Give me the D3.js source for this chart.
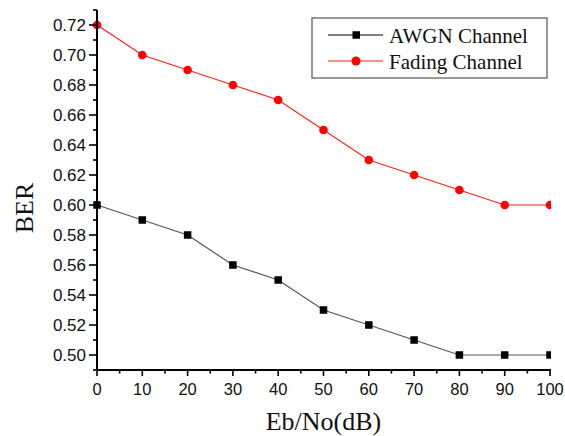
<!DOCTYPE html>
<html><head><meta charset="utf-8">
<script src="https://cdn.jsdelivr.net/npm/d3@7"></script>
<style>body{margin:0;background:#fff}</style>
</head><body>
<svg id="c" width="565" height="436"></svg>
<script>
const xValues = [0,10,20,30,40,50,60,70,80,90,100];
const awgn = [0.60,0.59,0.58,0.56,0.55,0.53,0.52,0.51,0.50,0.50,0.50];
const fading = [0.72,0.70,0.69,0.68,0.67,0.65,0.63,0.62,0.61,0.60,0.60];
const xTicks = [0,10,20,30,40,50,60,70,80,90,100];
const yTicks = [0.50,0.52,0.54,0.56,0.58,0.60,0.62,0.64,0.66,0.68,0.70,0.72];
const seriesNames = ["AWGN Channel","Fading Channel"];

const svg = d3.select("#c");
const x = d3.scaleLinear().domain([0,100]).range([97,550]);
const y = d3.scaleLinear().domain([0.49,0.73]).range([370,10]);

svg.append("defs").append("clipPath").attr("id","clip")
  .append("rect").attr("x",0).attr("y",0).attr("width",551).attr("height",436);

const g = svg.append("g").attr("clip-path","url(#clip)");
const line = d3.line().x((d,i)=>x(xValues[i])).y(d=>y(d));

g.append("path").datum(awgn).attr("d",line).attr("fill","none").attr("stroke","#555").attr("stroke-width",1.2);
g.append("path").datum(fading).attr("d",line).attr("fill","none").attr("stroke","#ff2020").attr("stroke-width",1.2);

g.selectAll(".sq").data(awgn).enter().append("rect")
  .attr("x",(d,i)=>x(xValues[i])-3.75).attr("y",d=>y(d)-3.75)
  .attr("width",7.5).attr("height",7.5).attr("fill","#000");
g.selectAll(".ci").data(fading).enter().append("circle")
  .attr("cx",(d,i)=>x(xValues[i])).attr("cy",d=>y(d)).attr("r",4.3).attr("fill","#ff0000");

// Axes
const xMinor = d3.range(5,100,10);
const yMinor = d3.range(0.49,0.731,0.02).map(v=>+v.toFixed(2));

const xa = svg.append("g").attr("transform","translate(0,370)");
xa.append("line").attr("x1",96).attr("x2",551).attr("y1",0).attr("y2",0).attr("stroke","#000").attr("stroke-width",2);
xa.selectAll(".mj").data(xTicks).enter().append("line")
  .attr("x1",d=>x(d)).attr("x2",d=>x(d)).attr("y1",0).attr("y2",6).attr("stroke","#000").attr("stroke-width",1.6);
xa.selectAll(".mn").data(xMinor).enter().append("line")
  .attr("x1",d=>x(d)).attr("x2",d=>x(d)).attr("y1",0).attr("y2",3.5).attr("stroke","#000").attr("stroke-width",1.6);
xa.selectAll(".lb").data(xTicks).enter().append("text")
  .attr("x",d=>x(d)).attr("y",24.5).attr("text-anchor","middle")
  .attr("font-family","Liberation Sans, Arial, sans-serif").attr("font-size",16.5).attr("fill","#111")
  .text(d=>d);

const ya = svg.append("g");
ya.append("line").attr("x1",97).attr("x2",97).attr("y1",10).attr("y2",371).attr("stroke","#000").attr("stroke-width",2);
ya.selectAll(".mj").data(yTicks).enter().append("line")
  .attr("x1",89).attr("x2",97).attr("y1",d=>y(d)).attr("y2",d=>y(d)).attr("stroke","#000").attr("stroke-width",1.6);
ya.selectAll(".mn").data(yMinor).enter().append("line")
  .attr("x1",93).attr("x2",97).attr("y1",d=>y(d)).attr("y2",d=>y(d)).attr("stroke","#000").attr("stroke-width",1.6);
ya.selectAll(".lb").data(yTicks).enter().append("text")
  .attr("x",86).attr("y",d=>y(d)+6).attr("text-anchor","end")
  .attr("font-family","Liberation Sans, Arial, sans-serif").attr("font-size",17).attr("fill","#111")
  .text(d=>d.toFixed(2));

svg.append("text").attr("x",323.5).attr("y",430).attr("text-anchor","middle")
  .attr("font-family","Liberation Serif, Times New Roman, serif").attr("font-size",26).attr("fill","#111")
  .text("Eb/No(dB)");
svg.append("text").attr("transform","translate(33,208) rotate(-90)").attr("text-anchor","middle")
  .attr("font-family","Liberation Serif, Times New Roman, serif").attr("font-size",26).attr("fill","#111")
  .text("BER");

// Legend
const lg = svg.append("g");
lg.append("rect").attr("x",312).attr("y",18).attr("width",235).attr("height",60)
  .attr("fill","#fff").attr("stroke","#555").attr("stroke-width",1.2);
const rows = [{name:seriesNames[0],c:"#000",lc:"#000",ty:35,shape:"sq"},{name:seriesNames[1],c:"#ff0000",lc:"#ff2020",ty:61,shape:"ci"}];
rows.forEach(r=>{
  lg.append("line").attr("x1",328).attr("x2",383).attr("y1",r.ty).attr("y2",r.ty).attr("stroke",r.lc).attr("stroke-width",1.2);
  if(r.shape==="sq") lg.append("rect").attr("x",352.5).attr("y",r.ty-3.75).attr("width",7.5).attr("height",7.5).attr("fill",r.c);
  else lg.append("circle").attr("cx",356).attr("cy",r.ty).attr("r",4.5).attr("fill",r.c);
  lg.append("text").attr("x",389).attr("y",r.ty+7.5)
    .attr("font-family","Liberation Serif, Times New Roman, serif").attr("font-size",21).attr("fill","#111")
    .text(r.name);
});
</script>
</body></html>
